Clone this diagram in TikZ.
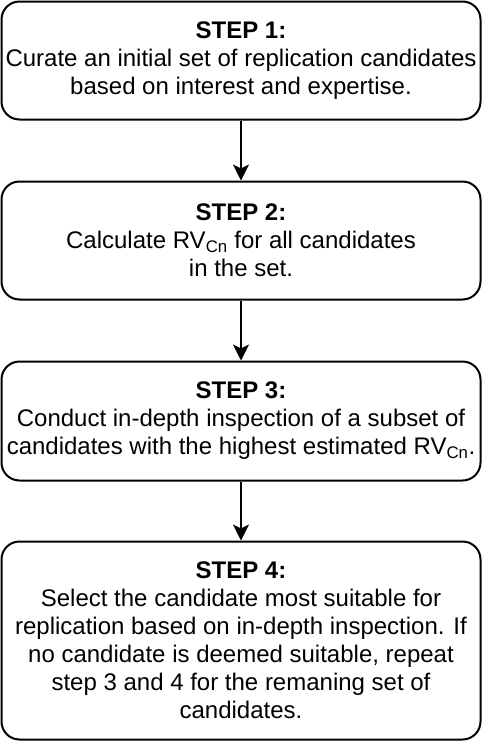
\documentclass[tikz,border=0pt]{standalone}
\usepackage{fontspec}
\setmainfont{Liberation Sans}
\usepackage{tikz}
\usetikzlibrary{positioning}
\usetikzlibrary{arrows.meta}

\begin{document}
\begin{tikzpicture}[
	x=1pt, y=1pt,
	box/.style = {rectangle, draw=black, fill=white, line width=2pt, rounded corners=18pt, minimum width=479pt, align=center, font=\fontsize{24}{28}\selectfont, inner sep=0pt},
	r/.style = {-{Stealth[length=16pt, width=16pt, inset=4pt]}, line width=2pt}
	]
	\useasboundingbox (0, 0) rectangle (484, -744);
	
	% === === Nodes === ===
	\node[box, minimum height=118]	(st1)	at	(241, -60.5)	{\textbf{STEP 1:}\\Curate an initial set of replication candidates\\based on interest and expertise.};
	\node[box, minimum height=118]	(st2)	at	(241, -240.5)	{\textbf{STEP 2:}\\Calculate RV\textsubscript{Cn} for all candidates\\in the set.};
	\node[box, minimum height=119]	(st3)	at	(241, -421)	{\textbf{STEP 3:}\\Conduct in-depth inspection of a subset of\\candidates with the highest estimated RV\textsubscript{Cn}.};
	\node[box, minimum height=198]	(st4)	at	(241, -640.5)	{\textbf{STEP 4:}\\Select the candidate most suitable for\\replication based on in-depth inspection. If\\no candidate is deemed suitable, repeat\\step 3 and 4 for the remaning set of\\candidates.};
	
	% === === Lines === ===
	\draw[r]	(st1.south)	to	(st2.north);
	\draw[r]	(st2.south)	to	(st3.north);
	\draw[r]	(st3.south)	to	(st4.north);
	
\end{tikzpicture}
\end{document}
